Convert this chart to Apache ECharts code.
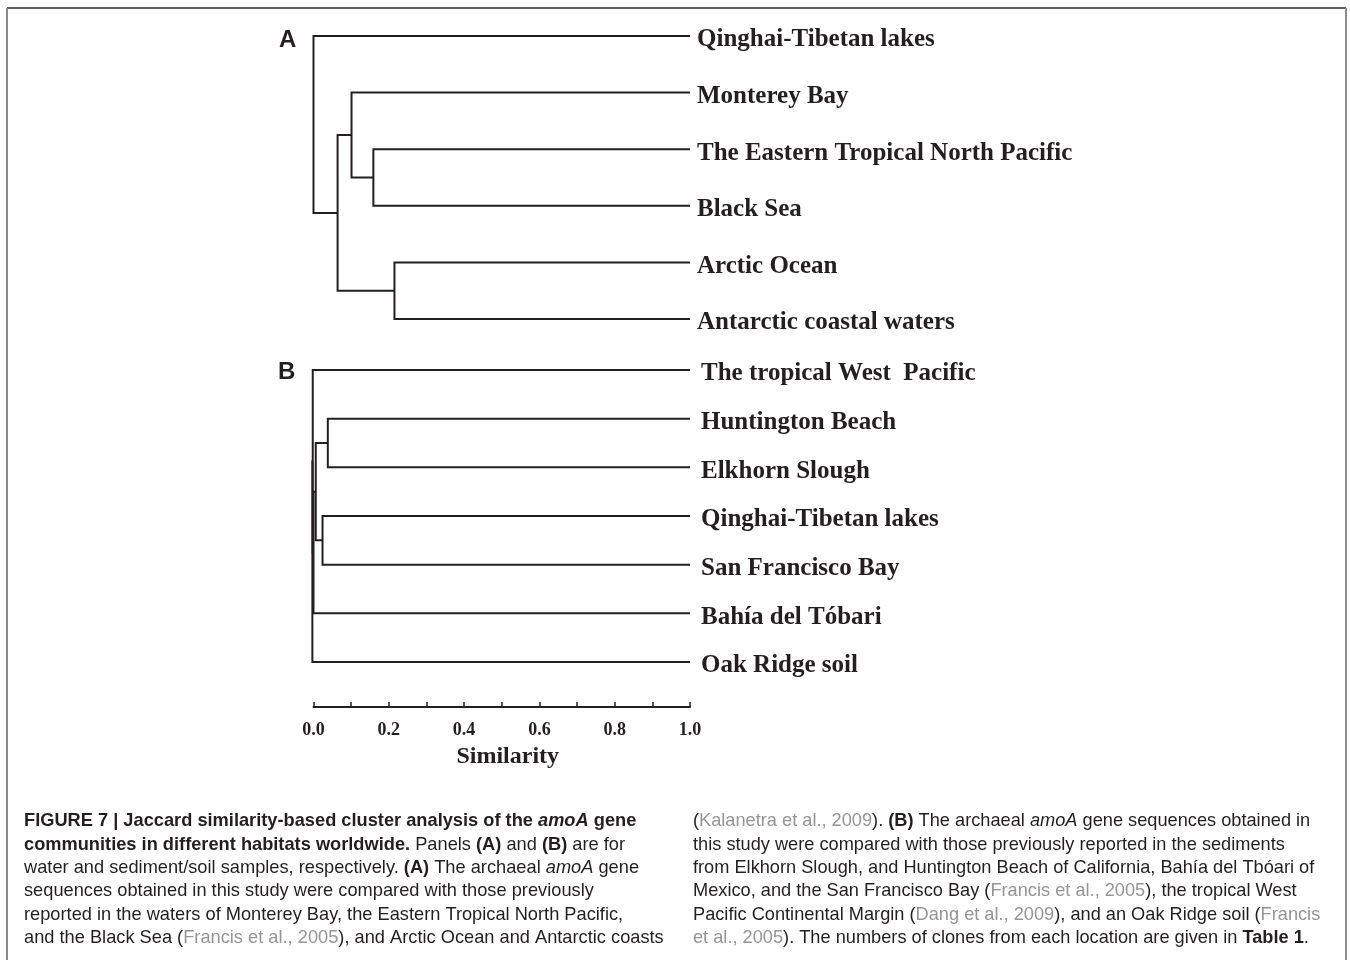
<!DOCTYPE html>
<html>
<head>
<meta charset="utf-8">
<script src="https://cdn.jsdelivr.net/npm/echarts@6/dist/echarts.min.js"></script>
<style>
html,body{margin:0;padding:0;background:#fff;}
#chart{width:1350px;height:960px;}
</style>
</head>
<body>
<div id="chart"></div>
<script>
// ---- Data ----
// Panel A (water samples): leaves top to bottom
const leavesA = ['Qinghai-Tibetan lakes', 'Monterey Bay', 'The Eastern Tropical North Pacific', 'Black Sea', 'Arctic Ocean', 'Antarctic coastal waters'];
// merges: [childA, childB, similarity]; new node index = leaves.length + merge index
const mergesA = [[2, 3, 0.159], [1, 6, 0.101], [4, 5, 0.215], [7, 8, 0.064], [0, 9, 0.0]];

// Panel B (sediment/soil samples)
const leavesB = ['The tropical West  Pacific', 'Huntington Beach', 'Elkhorn Slough', 'Qinghai-Tibetan lakes', 'San Francisco Bay', 'Bahía del Tóbari', 'Oak Ridge soil'];
const mergesB = [[1, 2, 0.038], [3, 4, 0.024], [7, 8, 0.006], [9, 5, 0.0], [0, 10, -0.002], [11, 6, -0.003]];

const leafSimilarity = 1.0;
const tickLabels = ['0.0', '0.2', '0.4', '0.6', '0.8', '1.0'];

// ---- Build dendrogram polylines ----
function buildSegments(leaves, merges) {
  const nodes = leaves.map((n, i) => ({ x: leafSimilarity, y: i }));
  const segs = [];
  merges.forEach(m => {
    const a = nodes[m[0]], b = nodes[m[1]], s = m[2];
    segs.push({ coords: [[a.x, a.y], [s, a.y], [s, b.y], [b.x, b.y]] });
    nodes.push({ x: s, y: (a.y + b.y) / 2 });
  });
  return segs;
}

const INK = '#231f20';
const GREY = '#959595';
const serif = '"Liberation Serif", "Times New Roman", serif';
const sans = '"Liberation Sans", Arial, sans-serif';

const chart = echarts.init(document.getElementById('chart'));

const leafLabel = (names, margin) => ({
  formatter: v => names[v] || '',
  margin: margin,
  fontFamily: serif,
  fontWeight: 'bold',
  fontSize: 25,
  color: INK,
  verticalAlign: 'top',
  lineHeight: 8
});

// caption lines (rich text)
const capLeft = [
  '{b|FIGURE 7 | Jaccard similarity-based cluster analysis of the }{bi|amoA}{b| gene}',
  '{b|communities in different habitats worldwide.}{n| Panels }{b|(A)}{n| and }{b|(B)}{n| are for}',
  '{n|water and sediment/soil samples, respectively. }{b|(A)}{n| The archaeal }{i|amoA}{n| gene}',
  '{n|sequences obtained in this study were compared with those previously}',
  '{n|reported in the waters of Monterey Bay, the Eastern Tropical North Pacific,}',
  '{n|and the Black Sea (}{g|Francis et al., 2005}{n|), and Arctic Ocean and Antarctic coasts}'
];
const capRight = [
  '{n|(}{g|Kalanetra et al., 2009}{n|). }{b|(B)}{n| The archaeal }{i|amoA}{n| gene sequences obtained in}',
  '{n|this study were compared with those previously reported in the sediments}',
  '{n|from Elkhorn Slough, and Huntington Beach of California, Bahía del Tbóari of}',
  '{n|Mexico, and the San Francisco Bay (}{g|Francis et al., 2005}{n|), the tropical West}',
  '{n|Pacific Continental Margin (}{g|Dang et al., 2009}{n|), and an Oak Ridge soil (}{g|Francis}',
  '{g|et al., 2005}{n|). The numbers of clones from each location are given in }{b|Table 1}{n|.}'
];
const FS = 19;
const rich = {
  n: { fontFamily: sans, fontSize: FS, fill: INK },
  b: { fontFamily: sans, fontSize: FS, fontWeight: 'bold', fill: INK },
  bi: { fontFamily: sans, fontSize: FS, fontWeight: 'bold', fontStyle: 'italic', fill: INK },
  i: { fontFamily: sans, fontSize: FS, fontStyle: 'italic', fill: INK },
  g: { fontFamily: sans, fontSize: FS, fill: GREY }
};
function captionGroup(lines, x0, y0, sx) {
  return {
    type: 'group', x: x0, y: y0, scaleX: sx,
    children: lines.map((t, i) => ({
      type: 'text', x: 0, y: i * 23.4,
      style: { text: t, rich: rich, verticalAlign: 'middle', align: 'left', font: FS + 'px ' + sans, fill: INK }
    }))
  };
}

const option = {
  backgroundColor: '#fff',
  animation: false,
  grid: [
    { left: 313.5, width: 376.5, top: 36, height: 283, containLabel: false, outerBoundsMode: 'none' },
    { left: 313.5, width: 376.5, top: 370, height: 292, containLabel: false, outerBoundsMode: 'none' }
  ],
  xAxis: [
    { gridIndex: 0, type: 'value', min: 0, max: 1, interval: 0.1, show: false },
    {
      gridIndex: 1, type: 'value', min: 0, max: 1, interval: 0.1, position: 'bottom', offset: 45,
      axisLine: { show: true, onZero: false, lineStyle: { color: INK, width: 2 } },
      axisTick: { show: true, inside: true, length: 5, lineStyle: { color: INK, width: 1.5 } },
      splitLine: { show: false },
      axisLabel: {
        margin: 14,
        formatter: v => { const k = Math.round(v * 10); return k % 2 === 0 ? tickLabels[k / 2] : ''; },
        fontFamily: serif, fontWeight: 'bold', fontSize: 18, color: INK
      },
      name: 'Similarity', nameLocation: 'middle', nameGap: 38,
      nameTextStyle: { fontFamily: serif, fontWeight: 'bold', fontSize: 24, color: INK, padding: [0, 0, 0, 12] }
    }
  ],
  yAxis: [
    {
      gridIndex: 0, type: 'value', inverse: true, min: 0, max: 5, interval: 1, position: 'right',
      axisLine: { show: false }, axisTick: { show: false }, splitLine: { show: false },
      axisLabel: leafLabel(leavesA, 7)
    },
    {
      gridIndex: 1, type: 'value', inverse: true, min: 0, max: 6, interval: 1, position: 'right',
      axisLine: { show: false }, axisTick: { show: false }, splitLine: { show: false },
      axisLabel: leafLabel(leavesB, 11)
    }
  ],
  series: [
    {
      type: 'lines', coordinateSystem: 'cartesian2d', xAxisIndex: 0, yAxisIndex: 0,
      polyline: true, clip: false, silent: true,
      lineStyle: { color: INK, width: 2, opacity: 1, curveness: 0 },
      data: buildSegments(leavesA, mergesA)
    },
    {
      type: 'lines', coordinateSystem: 'cartesian2d', xAxisIndex: 1, yAxisIndex: 1,
      polyline: true, clip: false, silent: true,
      lineStyle: { color: INK, width: 2, opacity: 1, curveness: 0 },
      data: buildSegments(leavesB, mergesB)
    }
  ],
  graphic: [
    { type: 'line', shape: { x1: 7, y1: 8, x2: 1346, y2: 8 }, style: { stroke: '#2b2b2b', lineWidth: 1.5 } },
    { type: 'line', shape: { x1: 7, y1: 8, x2: 7, y2: 960 }, style: { stroke: '#8a8a8a', lineWidth: 2 } },
    { type: 'line', shape: { x1: 1346, y1: 8, x2: 1346, y2: 960 }, style: { stroke: '#8a8a8a', lineWidth: 2 } },
    { type: 'text', x: 279, y: 40, style: { text: 'A', font: 'bold 24px ' + sans, fill: INK, verticalAlign: 'middle' } },
    { type: 'text', x: 278, y: 372, style: { text: 'B', font: 'bold 24px ' + sans, fill: INK, verticalAlign: 'middle' } },
    captionGroup(capLeft, 24, 821, 0.96),
    captionGroup(capRight, 693, 821, 0.958)
  ]
};
chart.setOption(option);
</script>
</body>
</html>
